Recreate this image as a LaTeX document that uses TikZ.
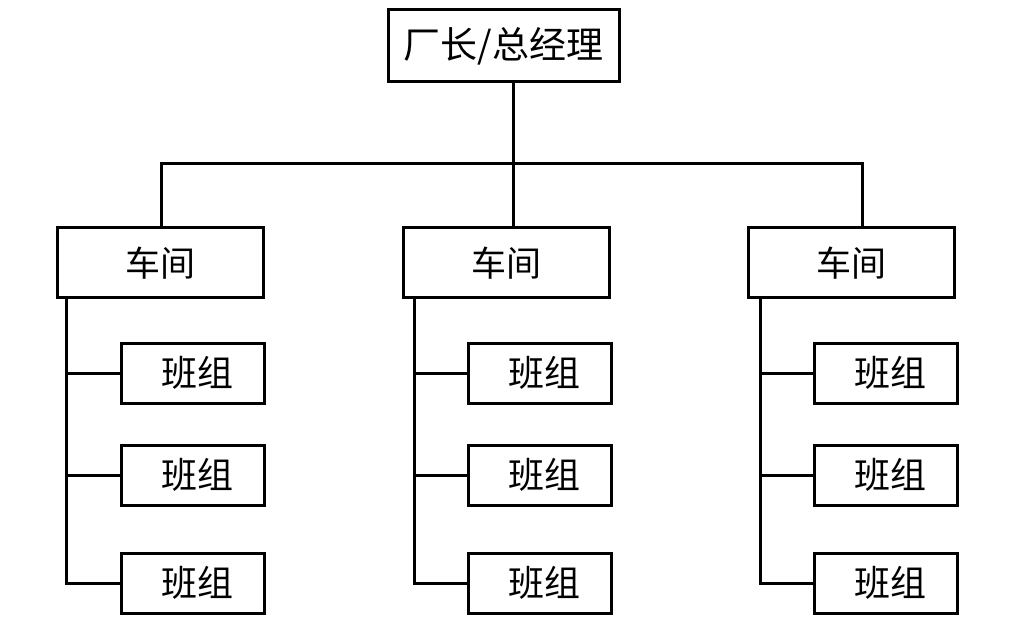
\documentclass[tikz,border=0pt]{standalone}
\usepackage{fontspec}
\newfontfamily\cjk{Noto Sans CJK SC}
\begin{document}
\begin{tikzpicture}[x=1pt,y=-1pt,
  box/.style={draw,line width=3pt,inner sep=0pt,anchor=center,font=\cjk\fontsize{35}{40}\selectfont},
  topbox/.style={box,minimum width=231pt,minimum height=72pt,font=\cjk\fontsize{37}{42}\selectfont},
  shop/.style={box,minimum width=206pt,minimum height=70pt},
  team/.style={box,minimum width=143pt,minimum height=60pt,font=\cjk\fontsize{36}{40}\selectfont},
  conn/.style={line width=3pt}]
\useasboundingbox (0,0) rectangle (1009,628);
\node[topbox] (top) at (503.5,46) {厂长/总经理};
\node[shop] (w1) at (160,263) {车间\hspace{8pt}};
\node[shop] (w2) at (506,263) {车间\hspace{8pt}};
\node[shop] (w3) at (851,263) {车间\hspace{8pt}};
\foreach \i/\x in {1/192.5,2/539.5,3/885.5}{
  \node[team] (g\i1) at (\x,373) {\hspace{10pt}班组};
  \node[team] (g\i2) at (\x,475) {\hspace{10pt}班组};
  \node[team] (g\i3) at (\x,583) {\hspace{10pt}班组};
}
\coordinate (s0) at (513,164);
\coordinate (s1) at (161,164);
\coordinate (s3) at (862,164);
\draw[conn] (top.south -| s0) -- (w2.north -| s0);
\draw[conn] (w1.north -| s1) -- (s1) -- (s3) -- (w3.north -| s3);
\coordinate (t1) at (66,0);
\coordinate (t2) at (414,0);
\coordinate (t3) at (760,0);
\foreach \i in {1,2,3}{
  \draw[conn] (w\i.south -| t\i) -- (t\i |- g\i3.west) -- (g\i3.west);
  \draw[conn] (t\i |- g\i1.west) -- (g\i1.west);
  \draw[conn] (t\i |- g\i2.west) -- (g\i2.west);
}
\end{tikzpicture}
\end{document}
